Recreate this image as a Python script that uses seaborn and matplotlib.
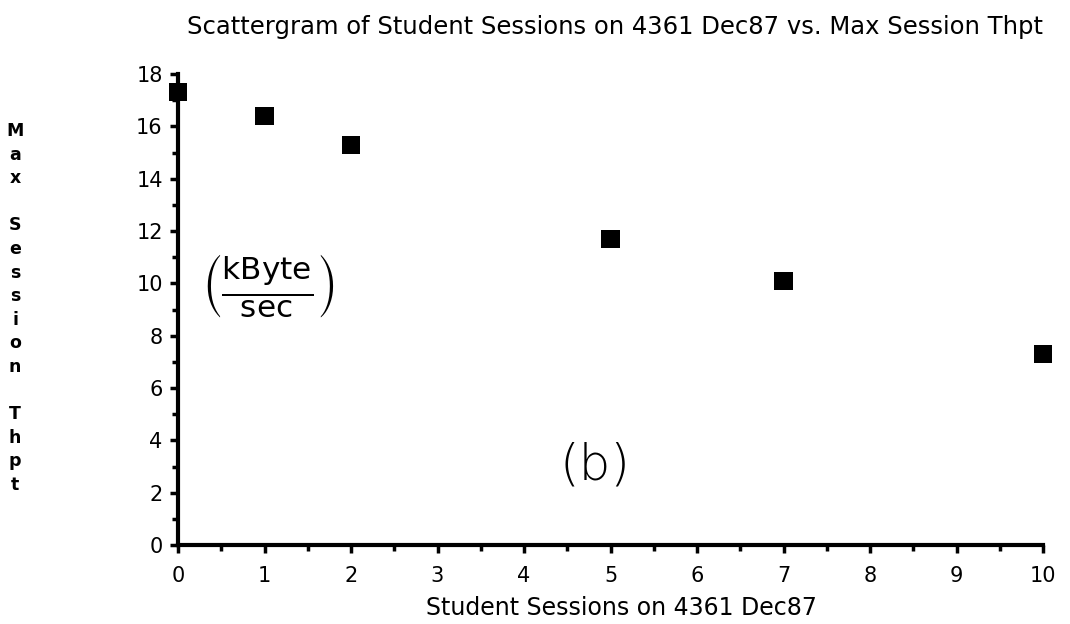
import matplotlib
matplotlib.use("Agg")
import matplotlib.pyplot as plt
from matplotlib.ticker import MultipleLocator
import seaborn as sns
import pandas as pd

# Student sessions vs. maximum per-session throughput
sessions = [0, 1, 2, 5, 7, 10]
max_thpt = [17.3, 16.4, 15.3, 11.7, 10.1, 7.3]
x_ticks = [0, 1, 2, 3, 4, 5, 6, 7, 8, 9, 10]
y_ticks = [0, 2, 4, 6, 8, 10, 12, 14, 16, 18]

title = "Scattergram of Student Sessions on 4361 Dec87 vs. Max Session Thpt"
x_label = "Student Sessions on 4361 Dec87"
y_label = "Max Session Thpt"

sns.set_theme(style="ticks")
plt.rcParams["font.family"] = ["DejaVu Sans"]
plt.rcParams["text.color"] = "black"

df = pd.DataFrame({"sessions": sessions, "thpt": max_thpt})

fig = plt.figure(figsize=(10.7, 6.24), dpi=100)
ax = fig.add_axes([178 / 1070, 1 - 545 / 624, (1043 - 178) / 1070, (545 - 74) / 624])

sns.scatterplot(data=df, x="sessions", y="thpt", ax=ax, marker="s", s=170,
                color="black", edgecolor="none", clip_on=False, zorder=5,
                legend=False)

ax.set_xlim(0, 10)
ax.set_ylim(0, 18)
ax.set_xticks(x_ticks)
ax.set_yticks(y_ticks)
ax.xaxis.set_minor_locator(MultipleLocator(0.5))
ax.yaxis.set_minor_locator(MultipleLocator(1))
ax.tick_params(axis="both", which="major", direction="out", length=6, width=2.5,
               colors="black", labelsize=15)
ax.tick_params(axis="both", which="minor", direction="out", length=4, width=2.5,
               colors="black")
ax.tick_params(axis="x", which="major", pad=9)
ax.tick_params(axis="y", which="major", pad=5)

for side in ("top", "right"):
    ax.spines[side].set_visible(False)
for side in ("left", "bottom"):
    ax.spines[side].set_linewidth(3)
    ax.spines[side].set_color("black")

ax.set_xlabel("")
ax.set_ylabel("")

fig.text(615 / 1070, 1 - 27 / 624, title, ha="center", va="center",
         fontsize=17.5, color="black")
fig.text(621 / 1070, 1 - 608 / 624, x_label, ha="center", va="center",
         fontsize=17, color="black")

# vertically stacked y-axis label, one character per line
stacked = "\n".join(list(y_label))
fig.text(15 / 1070, 1 - 308 / 624, stacked, ha="center", va="center",
         fontsize=12.5, linespacing=1.4, color="black", fontweight="bold")

# unit annotation and panel tag
ax.text(1.04, 9.9, r"$\left(\frac{\mathrm{kByte}}{\mathrm{sec}}\right)$",
        ha="center", va="center", fontsize=32, color="black")
ax.text(4.82, 3.05, "(b)", ha="center", va="center", fontsize=36, color="black",
        fontweight="light")

fig.savefig("out.png", dpi=100, facecolor="white")
